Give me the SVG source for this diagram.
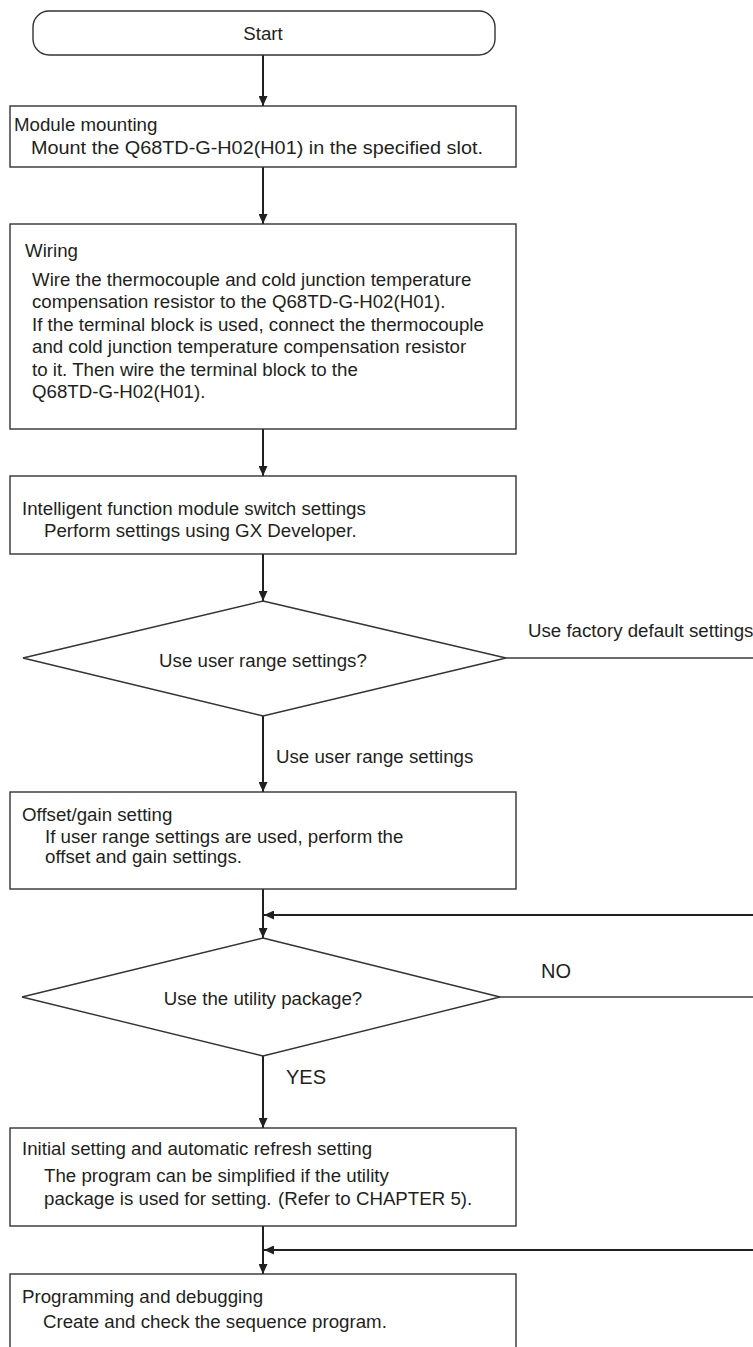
<svg xmlns="http://www.w3.org/2000/svg" width="753" height="1347" viewBox="0 0 753 1347">
<style>
.bg{fill:#fff}
.box{fill:#fff;stroke:#333;stroke-width:1.4}
.t{font-family:"Liberation Sans",Arial,sans-serif;font-size:18.7px;fill:#231f20}
.c{text-anchor:middle}
.lbl{font-family:"Liberation Sans",Arial,sans-serif;font-size:20px;fill:#231f20}
.conn{stroke:#231f20;stroke-width:2;fill:none}
.gray{stroke:#6b6b6b;stroke-width:2;fill:none}
</style>
<defs>
<marker id="ah" markerUnits="userSpaceOnUse" markerWidth="10" markerHeight="9" refX="10" refY="4.5" orient="auto">
<path d="M0,0 L10,4.5 L0,9 z" fill="#231f20"/>
</marker>
</defs>
<rect class="bg" x="0" y="0" width="753" height="1347"/>
<g id="connectors">
<path class="conn" d="M263,55 V106" marker-end="url(#ah)"/>
<path class="conn" d="M263,167 V224" marker-end="url(#ah)"/>
<path class="conn" d="M263,429 V476" marker-end="url(#ah)"/>
<path class="conn" d="M263,554 V601" marker-end="url(#ah)"/>
<path class="conn" d="M263,716 V792" marker-end="url(#ah)"/>
<path class="conn" d="M263,889 V938" marker-end="url(#ah)"/>
<path class="conn" d="M753,915 H264" marker-end="url(#ah)"/>
<path class="gray" d="M506,658 H753"/>
<path class="gray" d="M500,997 H753"/>
<path class="conn" d="M263,1056 V1128" marker-end="url(#ah)"/>
<path class="conn" d="M263,1226 V1274" marker-end="url(#ah)"/>
<path class="conn" d="M753,1250 H264" marker-end="url(#ah)"/>
<text class="t" x="528" y="637">Use factory default settings</text>
<text class="t" x="276" y="763">Use user range settings</text>
<text class="lbl" x="541" y="978">NO</text>
<text class="lbl" x="286" y="1084">YES</text>
</g>
<g id="start">
<rect class="box" x="33" y="11" width="462" height="44" rx="16" ry="16"/>
<text class="t c" x="263" y="40">Start</text>
</g>
<g id="mounting">
<rect class="box" x="10" y="106" width="506" height="61"/>
<text class="t" x="14" y="131">Module mounting</text>
<text class="t" x="31" y="154" textLength="452" lengthAdjust="spacingAndGlyphs">Mount the Q68TD-G-H02(H01) in the specified slot.</text>
</g>
<g id="wiring">
<rect class="box" x="10" y="224" width="506" height="205"/>
<text class="t" x="25" y="257">Wiring</text>
<text class="t" x="32" y="286">Wire the thermocouple and cold junction temperature</text>
<text class="t" x="32" y="308">compensation resistor to the Q68TD-G-H02(H01).</text>
<text class="t" x="32" y="331">If the terminal block is used, connect the thermocouple</text>
<text class="t" x="32" y="353">and cold junction temperature compensation resistor</text>
<text class="t" x="32" y="376">to it. Then wire the terminal block to the</text>
<text class="t" x="32" y="398">Q68TD-G-H02(H01).</text>
</g>
<g id="switch">
<rect class="box" x="10" y="476" width="506" height="78"/>
<text class="t" x="22" y="515">Intelligent function module switch settings</text>
<text class="t" x="44" y="537">Perform settings using GX Developer.</text>
</g>
<g id="decision-range">
<polygon class="box" points="263,601 506,658 263,716 23,658"/>
<text class="t c" x="263" y="667">Use user range settings?</text>
</g>
<g id="offset">
<rect class="box" x="10" y="792" width="506" height="97"/>
<text class="t" x="22" y="821">Offset/gain setting</text>
<text class="t" x="45" y="843">If user range settings are used, perform the</text>
<text class="t" x="45" y="863">offset and gain settings.</text>
</g>
<g id="decision-utility">
<polygon class="box" points="263,938 500,997 263,1056 22,997"/>
<text class="t c" x="263" y="1005">Use the utility package?</text>
</g>
<g id="initial">
<rect class="box" x="10" y="1128" width="506" height="98"/>
<text class="t" x="22" y="1155">Initial setting and automatic refresh setting</text>
<text class="t" x="44" y="1182">The program can be simplified if the utility</text>
<text class="t" x="44" y="1205">package is used for setting.</text>
<text class="t" x="278" y="1205">(Refer to CHAPTER 5).</text>
</g>
<g id="programming">
<rect class="box" x="10" y="1274" width="506" height="90"/>
<text class="t" x="22" y="1303">Programming and debugging</text>
<text class="t" x="43" y="1328">Create and check the sequence program.</text>
</g>
</svg>
